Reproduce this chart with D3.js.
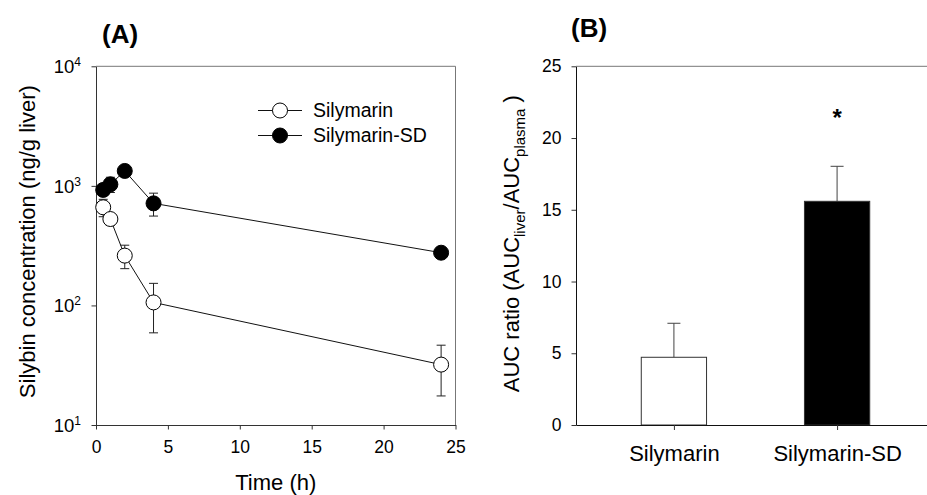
<!DOCTYPE html>
<html><head><meta charset="utf-8">
<script src="https://cdn.jsdelivr.net/npm/d3@7"></script>
<style>
html,body{margin:0;padding:0;background:#fff;}
svg{display:block;font-family:Arial,"Liberation Sans",sans-serif;}
</style></head>
<body><svg id="c" width="927" height="495"></svg>
<script>
// ---- data ----
const times = [0.5, 1, 2, 4, 24];
const silymarin = [662, 528, 261, 106, 32];
const silymarinErr = [110, 60, 58, 47, 14.5];
const silymarinSD = [925, 1030, 1333, 714, 276];
const silymarinSDErr = [90, 150, 100, 155, 20];
const xTicksA = [0, 5, 10, 15, 20, 25];
const yTicksA = [10, 100, 1000, 10000];

const aucCats = ["Silymarin", "Silymarin-SD"];
const aucMean = [4.72, 15.59];
const aucErr = [2.37, 2.44];
const yTicksB = [0, 5, 10, 15, 20, 25];

const svg = d3.select("#c");
const FONT_TICK = 17.5, FONT_TITLE = 22;

// ---------- Panel A ----------
const A = {l: 96, r: 455.5, t: 66.3, b: 425};
const xA = d3.scaleLinear().domain([0, 25]).range([A.l, A.r]);
const yA = d3.scaleLog().domain([10, 10000]).range([A.b, A.t]);
const gA = svg.append("g");

// frame
gA.append("line").attr("x1", A.l).attr("x2", A.r).attr("y1", A.t).attr("y2", A.t).attr("stroke", "#777").attr("stroke-width", 1);
gA.append("line").attr("x1", A.r).attr("x2", A.r).attr("y1", A.t).attr("y2", A.b).attr("stroke", "#777").attr("stroke-width", 1);

const axA_x = gA.append("g").attr("transform", `translate(0,${A.b})`)
  .call(d3.axisBottom(xA).tickValues(xTicksA).tickSize(4.5).tickSizeOuter(0).tickPadding(10));
const axA_y = gA.append("g").attr("transform", `translate(${A.l},0)`)
  .call(d3.axisLeft(yA).tickValues(yTicksA).tickSize(4.5).tickSizeOuter(0).tickFormat(""));
[axA_x, axA_y].forEach(a => {
  a.select(".domain").attr("stroke", "#333");
  a.selectAll(".tick line").attr("stroke", "#333");
  a.selectAll("text").attr("font-size", FONT_TICK).attr("fill", "#000").attr("font-family", "Arial, 'Liberation Sans', sans-serif");
});
axA_x.selectAll(".tick text").attr("dy", "0.75em");
// log tick labels with superscript
axA_y.selectAll(".tick").each(function(d) {
  const t = d3.select(this).append("text")
    .attr("x", -15).attr("y", 6.5)
    .attr("text-anchor", "end").attr("fill", "#000")
    .attr("font-size", 18.5)
    .attr("font-family", "Arial, 'Liberation Sans', sans-serif");
  t.append("tspan").text("10");
  t.append("tspan").attr("dy", -7).attr("font-size", 12).text(Math.round(Math.log10(d)));
});

gA.append("text").attr("x", (A.l + A.r) / 2).attr("y", 490)
  .attr("text-anchor", "middle").attr("font-size", FONT_TITLE).text("Time (h)");
gA.append("text").attr("transform", `translate(35,${(A.t + A.b) / 2 - 4}) rotate(-90)`)
  .attr("text-anchor", "middle").attr("font-size", FONT_TITLE).text("Silybin concentration (ng/g liver)");
gA.append("text").attr("x", 102).attr("y", 43).attr("font-size", 26).attr("font-weight", "bold").text("(A)");

const seriesA = [
  {name: "Silymarin", vals: silymarin, err: silymarinErr, fill: "#fff"},
  {name: "Silymarin-SD", vals: silymarinSD, err: silymarinSDErr, fill: "#000"}
];
const line = d3.line().x(d => xA(d.t)).y(d => yA(d.v));
const R = 7.5, CAP = 4.5;
seriesA.forEach(s => {
  const pts = times.map((t, i) => ({t, v: s.vals[i], e: s.err[i]}));
  gA.append("path").datum(pts).attr("d", line).attr("fill", "none").attr("stroke", "#111").attr("stroke-width", 1);
  const eb = gA.append("g").attr("stroke", "#222").attr("stroke-width", 1);
  pts.forEach(p => {
    const y1 = yA(p.v + p.e), y2 = yA(p.v - p.e), x = xA(p.t);
    eb.append("line").attr("x1", x).attr("x2", x).attr("y1", y1).attr("y2", y2);
    eb.append("line").attr("x1", x - CAP).attr("x2", x + CAP).attr("y1", y1).attr("y2", y1);
    eb.append("line").attr("x1", x - CAP).attr("x2", x + CAP).attr("y1", y2).attr("y2", y2);
  });
});
seriesA.forEach(s => {
  const pts = times.map((t, i) => ({t, v: s.vals[i]}));
  gA.append("g").selectAll("circle").data(pts).join("circle")
    .attr("cx", d => xA(d.t)).attr("cy", d => yA(d.v)).attr("r", R)
    .attr("fill", s.fill).attr("stroke", "#000").attr("stroke-width", 1);
});

// legend
const leg = gA.append("g");
seriesA.forEach((s, i) => {
  const y = 110.5 + i * 25;
  leg.append("line").attr("x1", 258).attr("x2", 302).attr("y1", y).attr("y2", y).attr("stroke", "#111");
  leg.append("circle").attr("cx", 280).attr("cy", y).attr("r", R).attr("fill", s.fill).attr("stroke", "#000");
  leg.append("text").attr("x", 313).attr("y", y).attr("dy", "0.35em").attr("font-size", 19.5).text(s.name);
});

// ---------- Panel B ----------
const B = {l: 576, r: 935, t: 66.3, b: 425};
const xB = d3.scalePoint().domain(aucCats).range([B.l, B.r]).padding(0.6);
const yB = d3.scaleLinear().domain([0, 25]).range([B.b, B.t]);
const gB = svg.append("g");
const bw = 0.4 * xB.step();

gB.append("line").attr("x1", B.l).attr("x2", B.r).attr("y1", B.t).attr("y2", B.t).attr("stroke", "#777");

// error bars (upper only)
aucCats.forEach((c, i) => {
  const x = xB(c), y1 = yB(aucMean[i] + aucErr[i]);
  gB.append("line").attr("x1", x).attr("x2", x).attr("y1", yB(aucMean[i])).attr("y2", y1).attr("stroke", "#444");
  gB.append("line").attr("x1", x - 6.5).attr("x2", x + 6.5).attr("y1", y1).attr("y2", y1).attr("stroke", "#444");
});
gB.append("g").selectAll("rect").data(aucCats).join("rect")
  .attr("x", d => xB(d) - bw / 2).attr("width", bw)
  .attr("y", (d, i) => yB(aucMean[i])).attr("height", (d, i) => yB(0) - yB(aucMean[i]))
  .attr("fill", (d, i) => i === 0 ? "#fff" : "#000").attr("stroke", "#333").attr("stroke-width", 1);

const axB_x = gB.append("g").attr("transform", `translate(0,${B.b})`)
  .call(d3.axisBottom(xB).tickSize(5).tickSizeOuter(0).tickPadding(14));
const axB_y = gB.append("g").attr("transform", `translate(${B.l},0)`)
  .call(d3.axisLeft(yB).tickValues(yTicksB).tickSize(4.5).tickSizeOuter(0).tickPadding(10));
[axB_x, axB_y].forEach(a => {
  a.select(".domain").attr("stroke", "#111");
  a.selectAll(".tick line").attr("stroke", "#333");
  a.selectAll("text").attr("fill", "#000").attr("font-family", "Arial, 'Liberation Sans', sans-serif");
});
axB_y.selectAll("text").attr("font-size", FONT_TICK);
axB_x.selectAll("text").attr("font-size", FONT_TITLE).attr("dy", "0.75em");

// significance star
gB.append("text").attr("x", xB(aucCats[1])).attr("y", yB(aucMean[1] + aucErr[1]) - 40)
  .attr("text-anchor", "middle").attr("font-size", 24).attr("font-weight", "bold").text("*");

const tB = gB.append("text").attr("transform", `translate(519,${(B.t + B.b) / 2 - 2}) rotate(-90)`)
  .attr("text-anchor", "middle").attr("font-size", FONT_TITLE);
tB.append("tspan").text("AUC ratio (AUC");
tB.append("tspan").attr("dy", 6).attr("font-size", 15).text("liver");
tB.append("tspan").attr("dy", -6).text("/AUC");
tB.append("tspan").attr("dy", 6).attr("font-size", 15).text("plasma");
tB.append("tspan").attr("dy", -6).text(" )");
gB.append("text").attr("x", 571).attr("y", 37).attr("font-size", 26).attr("font-weight", "bold").text("(B)");
</script></body></html>
